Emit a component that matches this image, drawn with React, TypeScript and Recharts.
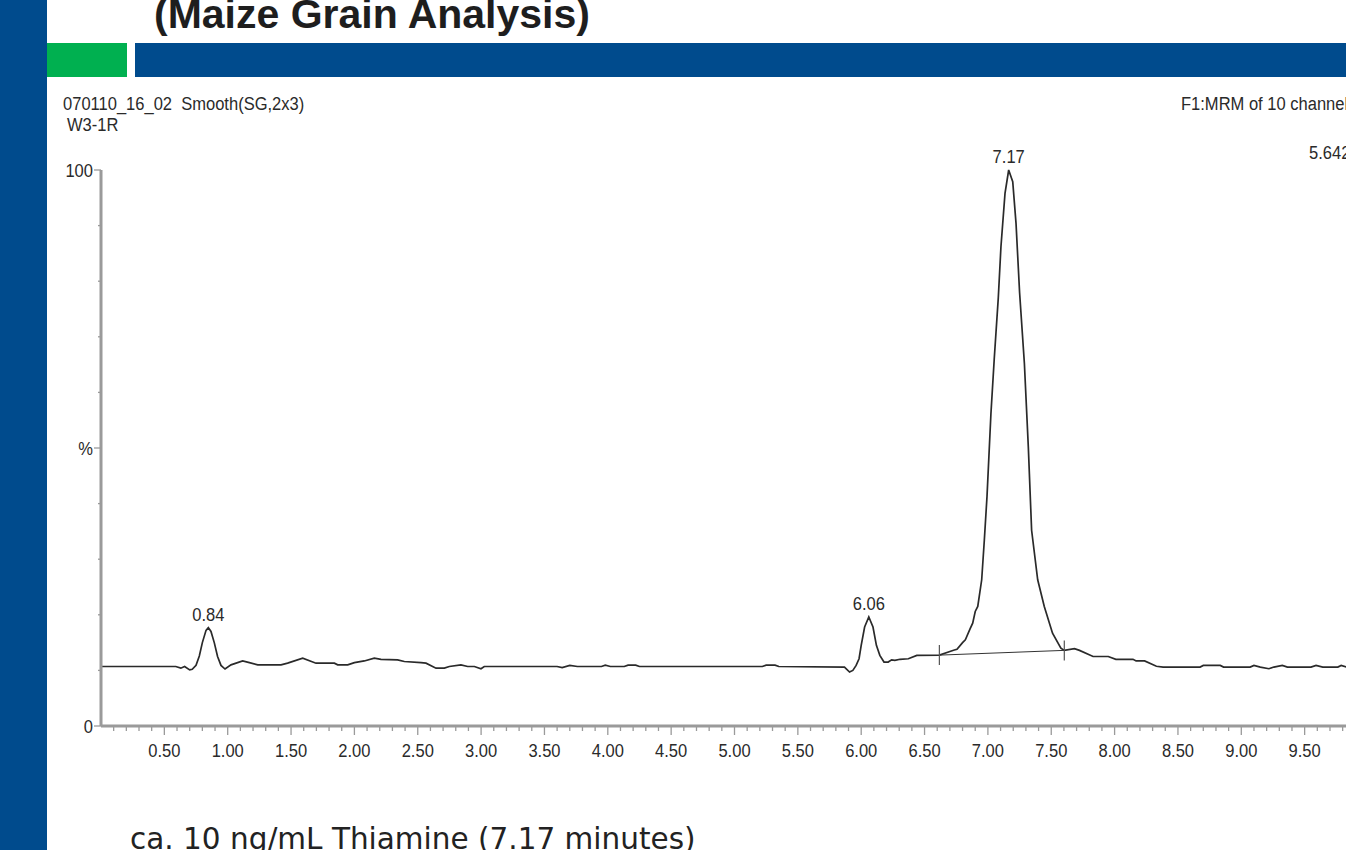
import React from 'react'
import { LineChart, Line, XAxis, YAxis, ReferenceLine, ReferenceDot } from 'recharts'

// retention time (min) and relative intensity (%)
const times = [
  0.0, 0.59, 0.63, 0.66, 0.7, 0.72, 0.75, 0.776, 0.8, 0.829, 0.847, 0.868, 0.894, 0.92, 0.947, 0.979,
  1.026, 1.118, 1.171, 1.237, 1.421, 1.473, 1.592, 1.697, 1.842, 1.868, 1.947, 2.0, 2.078, 2.157, 2.21,
  2.341, 2.394, 2.526, 2.565, 2.644, 2.71, 2.749, 2.841, 2.894, 2.947, 2.999, 3.025, 3.6, 3.64, 3.7, 3.76,
  3.95, 3.98, 4.02, 4.13, 4.16, 4.22, 4.25, 5.22, 5.25, 5.32, 5.35, 5.868, 5.908, 5.934, 5.96, 5.983, 6.0,
  6.027, 6.06, 6.093, 6.12, 6.147, 6.18, 6.213, 6.24, 6.266, 6.306, 6.372, 6.439, 6.617, 6.7, 6.735, 6.756,
  6.8, 6.822, 6.86, 6.88, 6.9, 6.92, 6.951, 6.972, 6.993, 7.024, 7.05, 7.082, 7.103, 7.135, 7.164, 7.196,
  7.222, 7.25, 7.288, 7.319, 7.345, 7.393, 7.445, 7.51, 7.576, 7.603, 7.683, 7.723, 7.83, 7.95, 8.01, 8.145,
  8.17, 8.237, 8.33, 8.383, 8.675, 8.7, 8.834, 8.86, 9.07, 9.1, 9.15, 9.218, 9.257, 9.324, 9.364, 9.55,
  9.59, 9.643, 9.762, 9.788, 9.836, 10.0,
]
const intensity = [
  10.7, 10.7, 10.4, 10.7, 10.1, 10.2, 10.9, 12.6, 15.0, 17.2, 17.7, 17.0, 15.0, 12.5, 10.9, 10.25,
  11.0, 11.7, 11.4, 11.0, 11.0, 11.3, 12.2, 11.3, 11.3, 11.0, 11.0, 11.4, 11.7, 12.2, 12.0,
  11.9, 11.6, 11.4, 11.3, 10.4, 10.4, 10.7, 11.0, 10.7, 10.7, 10.3, 10.7, 10.7, 10.5, 10.9, 10.7,
  10.7, 10.95, 10.7, 10.7, 10.95, 10.95, 10.7, 10.7, 10.95, 10.95, 10.7, 10.6, 9.7, 10.0, 10.9, 12.1, 14.5,
  17.8, 19.6, 17.8, 14.5, 12.7, 11.5, 11.5, 11.9, 11.8, 12.0, 12.1, 12.7, 12.75, 13.4, 13.67, 13.8,
  15.0, 15.5, 17.5, 18.5, 20.6, 21.5, 26.3, 33.5, 41.3, 56.2, 66.0, 77.0, 86.2, 95.8, 100.0, 97.9,
  90.4, 78.0, 65.2, 50.2, 35.2, 26.3, 21.5, 16.7, 14.0, 13.6, 13.9, 13.6, 12.5, 12.5, 12.0, 12.0,
  11.7, 11.7, 10.75, 10.6, 10.6, 10.9, 10.9, 10.6, 10.6, 10.9, 10.6, 10.3, 10.6, 10.9, 10.6, 10.6,
  10.9, 10.6, 10.6, 10.9, 10.55, 10.6,
]

// labelled peaks
const peakTimes = [0.847, 6.06, 7.164]
const peakHeights = [17.7, 19.6, 100]
const peakLabels = ['0.84', '6.06', '7.17']

// integration baseline of the 7.17 peak
const intStart = { t: 6.617, v: 12.75 }
const intEnd = { t: 7.603, v: 13.6 }

const xLabels = ['0.50', '1.00', '1.50', '2.00', '2.50', '3.00', '3.50', '4.00', '4.50', '5.00',
  '5.50', '6.00', '6.50', '7.00', '7.50', '8.00', '8.50', '9.00', '9.50']
const xTicks = Array.from({ length: 100 }, (_, i) => (i + 1) / 10)
const yTicks = [0, 10, 20, 30, 40, 50, 60, 70, 80, 90, 100]
const yLabels: Record<number, string> = { 0: '0', 50: '%', 100: '100' }

const data = times.map((t, i) => ({ t, v: intensity[i] }))

const FONT = "'Liberation Sans', Arial, sans-serif"
const AXIS = '#9a9a9a'
const INK = '#2a2a2a'

// the instrument printout uses a condensed face, squeeze it horizontally
const NText = ({ x, y, anchor = 'start', children }: any) => (
  <text
    transform={`translate(${x},${y}) scale(0.87,1)`}
    textAnchor={anchor}
    fontFamily={FONT}
    fontSize={19}
    fill={INK}
    style={{ whiteSpace: 'pre' }}
  >
    {children}
  </text>
)

const XTick = (props: any) => {
  const { x, y, payload } = props
  const label = xLabels.find((l) => Math.abs(Number(l) - payload.value) < 1e-6)
  const major = Math.abs(payload.value * 2 - Math.round(payload.value * 2)) < 1e-6
  return (
    <g>
      <line x1={x} x2={x} y1={y} y2={y + (major ? 9 : 5)} stroke={AXIS} strokeWidth={1.3} />
      {label && (
        <NText x={x} y={y + 31} anchor="middle">
          {label}
        </NText>
      )}
    </g>
  )
}

const YTick = (props: any) => {
  const { x, y, payload } = props
  const label = yLabels[payload.value]
  return (
    <g>
      <line x1={x - (label ? 7 : 3)} x2={x} y1={y} y2={y} stroke={AXIS} strokeWidth={1.3} />
      {label && (
        <NText x={x - 8} y={y + 7} anchor="end">
          {label}
        </NText>
      )}
    </g>
  )
}

const PeakLabel = (text: string) => (props: any) => {
  const { viewBox } = props
  const cx = viewBox.x + (viewBox.width || 0) / 2
  const cy = viewBox.y + (viewBox.height || 0) / 2
  return (
    <NText x={cx} y={cy - 7} anchor="middle">
      {text}
    </NText>
  )
}

export default function App() {
  return (
    <div
      style={{
        position: 'fixed',
        left: 0,
        top: 0,
        width: 1346,
        height: 850,
        overflow: 'hidden',
        background: '#fff',
      }}
    >
      <div style={{ position: 'absolute', left: 0, top: 0 }}>
        <LineChart
          width={1400}
          height={850}
          data={data}
          margin={{ top: 170, right: 32, bottom: 84, left: 41 }}
        >
          <XAxis
            dataKey="t"
            type="number"
            domain={[0, 10]}
            ticks={xTicks}
            interval={0}
            height={40}
            tickSize={0}
            tickMargin={0}
            tickLine={false}
            axisLine={{ stroke: AXIS, strokeWidth: 3 }}
            tick={XTick}
          />
          <YAxis
            type="number"
            domain={[0, 100]}
            ticks={yTicks}
            interval={0}
            width={60}
            tickSize={0}
            tickMargin={0}
            tickLine={false}
            axisLine={{ stroke: AXIS, strokeWidth: 3 }}
            tick={YTick}
          />
          <Line
            type="linear"
            dataKey="v"
            stroke={INK}
            strokeWidth={1.7}
            dot={false}
            isAnimationActive={false}
          />
          <ReferenceLine
            segment={[
              { x: intStart.t, y: intStart.v },
              { x: intEnd.t, y: intEnd.v },
            ]}
            stroke="#333"
            strokeWidth={1}
          />
          <ReferenceLine
            segment={[
              { x: intStart.t, y: intStart.v - 1.8 },
              { x: intStart.t, y: intStart.v + 1.8 },
            ]}
            stroke="#555"
            strokeWidth={1.2}
          />
          <ReferenceLine
            segment={[
              { x: intEnd.t, y: intEnd.v - 1.8 },
              { x: intEnd.t, y: intEnd.v + 1.8 },
            ]}
            stroke="#555"
            strokeWidth={1.2}
          />
          {peakTimes.map((t, i) => (
            <ReferenceDot
              key={peakLabels[i]}
              x={t}
              y={peakHeights[i]}
              r={0}
              fill="none"
              stroke="none"
              label={PeakLabel(peakLabels[i])}
            />
          ))}
        </LineChart>
      </div>

      {/* slide decoration */}
      <div style={{ position: 'absolute', left: 0, top: 0, width: 47, height: 850, background: '#004b8d' }} />
      <div style={{ position: 'absolute', left: 47, top: 43, width: 80, height: 34, background: '#00b050' }} />
      <div style={{ position: 'absolute', left: 135, top: 43, width: 1211, height: 34, background: '#004b8d' }} />

      <svg
        width={1346}
        height={850}
        style={{ position: 'absolute', left: 0, top: 0, pointerEvents: 'none' }}
      >
        <text x={154} y={28} fontFamily={FONT} fontWeight="bold" fontSize={41} fill="#1e1e1e">
          (Maize Grain Analysis)
        </text>
        <NText x={63} y={110}>070110_16_02  Smooth(SG,2x3)</NText>
        <NText x={67} y={131}>W3-1R</NText>
        <NText x={1181} y={110}>F1:MRM of 10 channels,ES+</NText>
        <NText x={1309} y={159}>5.642e3</NText>
        <text x={130} y={849} fontFamily="'DejaVu Sans', sans-serif" fontSize={29.5} fill="#222">
          ca. 10 ng/mL Thiamine (7.17 minutes)
        </text>
      </svg>
    </div>
  )
}
